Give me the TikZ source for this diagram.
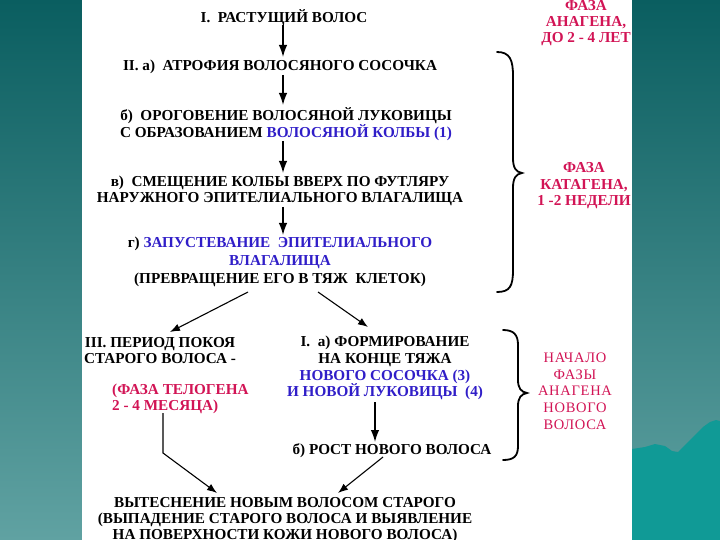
\documentclass[tikz,border=0pt]{standalone}
\usepackage{fontspec}
\setmainfont{Liberation Serif}
\usetikzlibrary{arrows.meta,calc}
\definecolor{myblue}{RGB}{48,30,200}
\definecolor{crim}{RGB}{210,20,85}
\definecolor{tealtop}{RGB}{10,94,96}
\definecolor{tealbot}{RGB}{96,162,162}
\definecolor{mount}{RGB}{16,154,150}
\begin{document}
\begin{tikzpicture}[x=1pt,y=-1pt,
  txt/.style={inner sep=0pt,align=center,font=\fontsize{15.2}{16}\selectfont\bfseries},
  rtxt/.style={inner sep=0pt,align=center,text=crim,font=\fontsize{15.2}{16.5}\selectfont\bfseries},
  arr/.style={line width=1.4pt,-{Latex[length=12pt,width=8.5pt]}},
  darr/.style={line width=1.1pt,-{Latex[length=10pt,width=7.5pt]}},
  brace/.style={line width=1.8pt,line cap=round}]
\useasboundingbox (0,0) rectangle (720,540);
% backgrounds
\shade[top color=tealtop,bottom color=tealbot] (0,0) rectangle (82,540);
\shade[top color=tealtop,bottom color=tealbot] (632,0) rectangle (720,540);
\fill[mount] (632,449) -- (645,447) -- (655,444) -- (665,446) -- (672,451) -- (678,452) -- (683,447) -- (690,440) -- (697,433) -- (703,427) -- (710,422) -- (716,420) -- (720,421) -- (720,540) -- (632,540) -- cycle;
\fill[white] (82,0) rectangle (632,540);

% main column
\node[txt] (n1) at (284,18) {I.~~РАСТУЩИЙ ВОЛОС};
\node[txt] (n2) at (280,67) {II. а)~~АТРОФИЯ ВОЛОСЯНОГО СОСОЧКА};
\node[txt] (n3) at (286,124) {б)~~ОРОГОВЕНИЕ ВОЛОСЯНОЙ ЛУКОВИЦЫ\\С ОБРАЗОВАНИЕМ \textcolor{myblue}{ВОЛОСЯНОЙ КОЛБЫ (1)}};
\node[txt] (n4) at (280,191) {в)~~СМЕЩЕНИЕ КОЛБЫ ВВЕРХ ПО ФУТЛЯРУ\\НАРУЖНОГО ЭПИТЕЛИАЛЬНОГО ВЛАГАЛИЩА};
\node[txt,font=\fontsize{15.2}{18}\selectfont\bfseries] (n5) at (280,262) {г) \textcolor{myblue}{ЗАПУСТЕВАНИЕ~~ЭПИТЕЛИАЛЬНОГО}\\\textcolor{myblue}{ВЛАГАЛИЩА}\\(ПРЕВРАЩЕНИЕ ЕГО В ТЯЖ~~КЛЕТОК)};

\node[txt] (n6) at (160,351) {III. ПЕРИОД ПОКОЯ\\СТАРОГО ВОЛОСА -};
\node[txt,align=left,anchor=west,text=crim] (n7) at (112,399) {(ФАЗА ТЕЛОГЕНА\\2 - 4 МЕСЯЦА)};
\node[txt,font=\fontsize{15.2}{16.7}\selectfont\bfseries] (n8) at (385,368) {I.~~а) ФОРМИРОВАНИЕ\\НА КОНЦЕ ТЯЖА\\\textcolor{myblue}{НОВОГО СОСОЧКА (3)}\\\textcolor{myblue}{И НОВОЙ ЛУКОВИЦЫ~~(4)}};
\node[txt] (n9) at (392,451) {б) РОСТ НОВОГО ВОЛОСА};
\node[txt] (n10) at (285,520) {ВЫТЕСНЕНИЕ НОВЫМ ВОЛОСОМ СТАРОГО\\(ВЫПАДЕНИЕ СТАРОГО ВОЛОСА И ВЫЯВЛЕНИЕ\\НА ПОВЕРХНОСТИ КОЖИ НОВОГО ВОЛОСА)};

% right column
\node[rtxt,font=\fontsize{15.2}{16}\selectfont\bfseries] (r1) at (586,23) {ФАЗА\\АНАГЕНА,\\ДО 2 - 4 ЛЕТ};
\node[rtxt] (r2) at (584,186) {ФАЗА\\КАТАГЕНА,\\1 -2 НЕДЕЛИ};
\node[rtxt,font=\fontsize{14.5}{16.7}\selectfont\addfontfeature{LetterSpace=5}] (r3) at (575,391) {НАЧАЛО\\ФАЗЫ\\АНАГЕНА\\НОВОГО\\ВОЛОСА};

% vertical arrows (column x = 283)
\draw[arr] ($(n1.center)+(-1,7)$) -- ($(n2.center)+(3,-10)$);
\draw[arr] ($(n2.center)+(3,8)$) -- ($(n3.center)+(-3,-19)$);
\draw[arr] ($(n3.center)+(-3,17)$) -- ($(n4.center)+(3,-18)$);
\draw[arr] ($(n4.center)+(3,16)$) -- ($(n5.center)+(3,-27)$);

% branch arrows
\draw[darr] ($(n5.center)+(-32,30)$) -- ($(n6.center)+(10,-19)$);
\draw[darr] ($(n5.center)+(38,30)$) -- ($(n8.center)+(-17,-41)$);
\draw[arr] ($(n8.center)+(-10,34)$) -- ($(n9.center)+(-17,-9)$);
\draw[darr] ($(n7.west)+(51,14)$) -- ($(n7.west)+(51,54)$) -- ($(n10.center)+(-68,-27)$);
\draw[darr] ($(n9.center)+(-9,6)$) -- ($(n10.center)+(53,-27)$);

% braces
\draw[brace] (497,52) .. controls (510,52) and (513,60) .. (513,76) -- (513,158) .. controls (513,168) and (516,172) .. (522,173) .. controls (516,174) and (513,178) .. (513,188) -- (513,270) .. controls (513,286) and (510,292) .. (497,292);
\draw[brace] (503,330) .. controls (514,330) and (518,335) .. (518,345) -- (518,380) .. controls (518,388) and (521,392) .. (527,393) .. controls (521,394) and (518,398) .. (518,406) -- (518,446) .. controls (518,456) and (514,460) .. (503,460);
\end{tikzpicture}
\end{document}
